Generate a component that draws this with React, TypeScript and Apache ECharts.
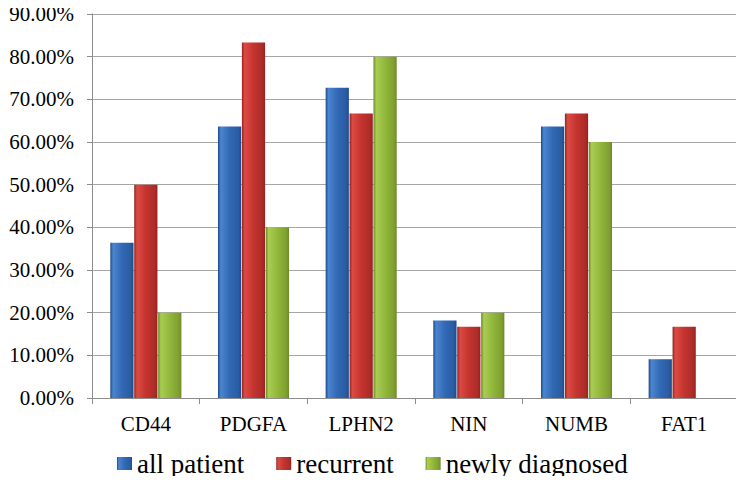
import React, { useEffect, useRef } from "react";
import * as echarts from "echarts";

const categories = ["CD44", "PDGFA", "LPHN2", "NIN", "NUMB", "FAT1"];
const allPatient = [36.36, 63.64, 72.73, 18.18, 63.64, 9.09];
const recurrent = [50.0, 83.33, 66.67, 16.67, 66.67, 16.67];
const newlyDiagnosed = [20.0, 40.0, 80.0, 20.0, 60.0, 0];
const seriesNames = ["all patient", "recurrent", "newly diagnosed"];

const FONT = "Liberation Serif";

function grad(dark: string, light: string, mid: string, right: string) {
  return new echarts.graphic.LinearGradient(0, 0, 1, 0, [
    { offset: 0, color: dark },
    { offset: 0.12, color: light },
    { offset: 0.5, color: mid },
    { offset: 0.88, color: right },
    { offset: 1, color: dark },
  ]);
}

export default function App() {
  const ref = useRef<HTMLDivElement>(null);
  useEffect(() => {
    if (!ref.current) return;
    const chart = echarts.init(ref.current, null, { renderer: "svg" });
    const colors = [
      grad("#1d4a88", "#4b85cf", "#3169b5", "#2a5ca2"),
      grad("#932321", "#dc4a43", "#c4342f", "#ad2c28"),
      grad("#6b8a26", "#a9cd52", "#91b73b", "#809f31"),
    ];
    const data = [allPatient, recurrent, newlyDiagnosed];
    chart.setOption({
      animation: false,
      backgroundColor: "#ffffff",
      textStyle: { fontFamily: FONT, color: "#000" },
      grid: { left: 92, right: 6, top: 14, bottom: 86, containLabel: false },
      legend: {
        left: 117,
        top: 450,
        padding: 0,
        itemWidth: 15,
        itemHeight: 13,
        itemGap: 32,
        icon: "rect",
        textStyle: { fontFamily: FONT, fontSize: 27, color: "#000" },
        data: seriesNames,
      },
      xAxis: {
        type: "category",
        data: categories,
        axisLine: { lineStyle: { color: "#8c8c8c", width: 1 } },
        axisTick: { show: true, length: 6, lineStyle: { color: "#8c8c8c" } },
        axisLabel: { fontFamily: FONT, fontSize: 21, color: "#000", margin: 15 },
      },
      yAxis: {
        type: "value",
        min: 0,
        max: 90,
        interval: 10,
        axisLine: { show: true, lineStyle: { color: "#8c8c8c", width: 1 } },
        axisTick: { show: true, length: 5, lineStyle: { color: "#8c8c8c" } },
        splitLine: { lineStyle: { color: "#a6a6a6", width: 1 } },
        axisLabel: {
          fontFamily: FONT,
          fontSize: 21,
          color: "#000",
          margin: 18,
          formatter: (v: number) => v.toFixed(2) + "%",
        },
      },
      series: seriesNames.map((name, i) => ({
        name,
        type: "bar",
        data: data[i],
        barGap: "3%",
        barCategoryGap: "34%",
        itemStyle: { color: colors[i] },
      })),
    });
    return () => chart.dispose();
  }, []);
  return <div ref={ref} style={{ width: 744, height: 484, margin: -8 }} />;
}
